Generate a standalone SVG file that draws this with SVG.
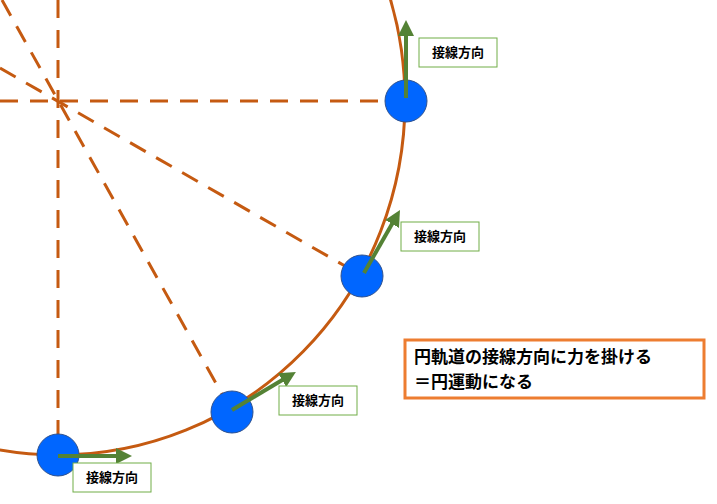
<svg xmlns="http://www.w3.org/2000/svg" width="717" height="504" viewBox="0 0 717 504">
<defs>
<marker id="ah" markerWidth="4" markerHeight="4" refX="2" refY="2" orient="auto" markerUnits="strokeWidth"><path d="M0,0 L4,2 L0,4 z" fill="#548235"/></marker>
<style>
.dash{stroke:#C55A11;stroke-width:3;stroke-dasharray:18,12;fill:none}
.orb{stroke:#C55A11;stroke-width:3;fill:none}
.ball{fill:#0066FF;stroke:#2F528F;stroke-width:1}
.arr{stroke:#548235;stroke-width:4;marker-end:url(#ah)}
.lb{fill:#fff;stroke:#70AD47;stroke-width:1}
.t{font-family:"Liberation Sans","Noto Sans CJK JP",sans-serif;font-weight:bold;font-size:13px;fill:#000}
.big{font-family:"Liberation Sans","Noto Sans CJK JP",sans-serif;font-weight:bold;font-size:17px;fill:#000}
</style>
</defs>
<rect width="717" height="504" fill="#fff"/>
<g id="orbit"><ellipse class="orb" cx="58" cy="101" rx="347" ry="354"/></g>
<g id="connectors">
<line class="dash" x1="0" y1="101" x2="390" y2="101"/>
<line class="dash" x1="58" y1="0" x2="58" y2="435"/>
<line class="dash" x1="0" y1="68" x2="345" y2="266"/>
<line class="dash" x1="2" y1="0" x2="222" y2="394"/>
</g>
<g id="ball1"><circle class="ball" cx="406" cy="101" r="21"/></g>
<g id="ball2"><circle class="ball" cx="362" cy="276" r="21"/></g>
<g id="ball3"><circle class="ball" cx="232" cy="412" r="21"/></g>
<g id="ball4"><circle class="ball" cx="58" cy="455" r="21"/></g>
<g id="arrows">
<line class="arr" x1="406" y1="98" x2="406" y2="28"/>
<line class="arr" x1="364" y1="273" x2="396" y2="217"/>
<line class="arr" x1="232" y1="410" x2="289" y2="376"/>
<line class="arr" x1="58" y1="456" x2="124" y2="456"/>
</g>
<g id="label1"><rect class="lb" x="419" y="38" width="78" height="29"/><text class="t" x="458" y="57" text-anchor="middle">接線方向</text></g>
<g id="label2"><rect class="lb" x="401" y="222" width="78" height="29"/><text class="t" x="440" y="241" text-anchor="middle">接線方向</text></g>
<g id="label3"><rect class="lb" x="279" y="386" width="78" height="29"/><text class="t" x="318" y="405" text-anchor="middle">接線方向</text></g>
<g id="label4"><rect class="lb" x="73" y="463" width="78" height="29"/><text class="t" x="112" y="482" text-anchor="middle">接線方向</text></g>
<g id="note"><rect x="405" y="340" width="299" height="58" fill="#fff" stroke="#ED7D31" stroke-width="3"/>
<text class="big" x="414" y="363">円軌道の接線方向に力を掛ける</text>
<text class="big" x="414" y="388">＝円運動になる</text></g>
</svg>
